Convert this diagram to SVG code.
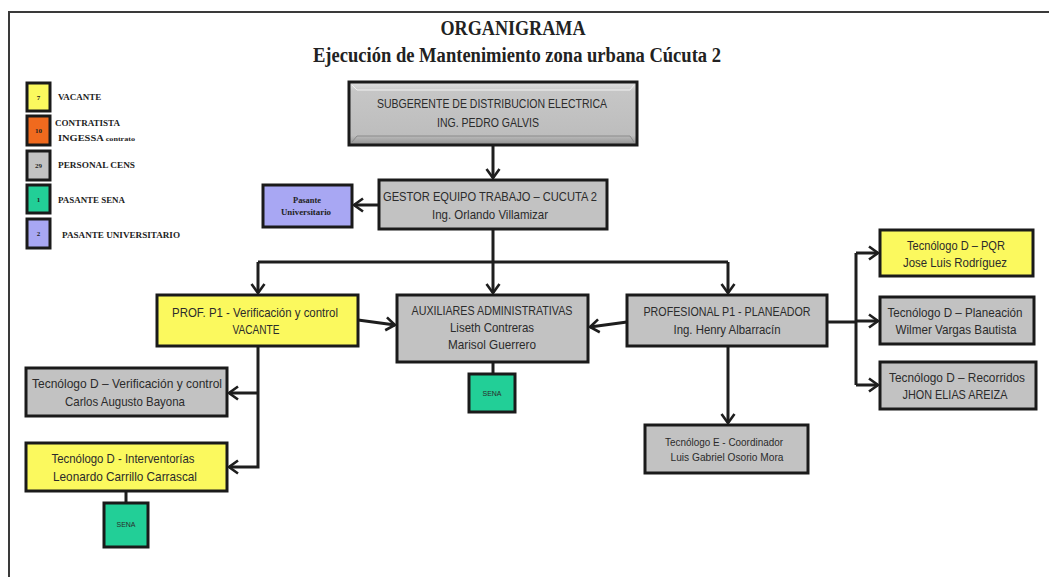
<svg xmlns="http://www.w3.org/2000/svg" width="1049" height="577" viewBox="0 0 1049 577">
<style>
.box{stroke:#1a1a1a;stroke-width:3}
.gray{fill:#c2c2c2}
.yel{fill:#fbf95e}
.grn{fill:#22cf97}
.pur{fill:#a8a7f3}
.org{fill:#f06a1e}
.t{font-family:"Liberation Sans",Arial,sans-serif;font-size:13px;fill:#2b2b2b;text-anchor:middle}
.ts{font-family:"Liberation Sans",Arial,sans-serif;font-size:11px;fill:#2b2b2b;text-anchor:middle}
.tiny{font-family:"Liberation Sans",Arial,sans-serif;font-size:7px;fill:#2b2b2b;text-anchor:middle}
.lg{font-family:"Liberation Serif","Times New Roman",serif;font-size:9px;font-weight:bold;fill:#222}
.num{font-family:"Liberation Serif","Times New Roman",serif;font-size:7px;font-weight:bold;fill:#222;text-anchor:middle}
.pu{font-family:"Liberation Serif","Times New Roman",serif;font-size:8px;font-weight:bold;fill:#222;text-anchor:middle}
.ttl{font-family:"Liberation Serif","Times New Roman",serif;font-weight:bold;font-size:20px;fill:#222;text-anchor:middle}
.c{fill:none;stroke:#1e1e1e;stroke-width:3}
</style>
<defs>
<marker id="ah" markerUnits="userSpaceOnUse" markerWidth="14" markerHeight="16" refX="11" refY="8" orient="auto">
<path d="M2,1.5 L11,8 L2,14.5" fill="none" stroke="#1e1e1e" stroke-width="2.6"/>
</marker>
<linearGradient id="bev" x1="0" y1="0" x2="0" y2="1">
<stop offset="0" stop-color="#e2e2e2"/>
<stop offset="0.15" stop-color="#c6c6c6"/>
<stop offset="0.85" stop-color="#bdbdbd"/>
<stop offset="1" stop-color="#8f8f8f"/>
</linearGradient>
</defs>
<rect width="1049" height="577" fill="#fff"/>
<path d="M9,577 V12 H1049" fill="none" stroke="#3a3a3a" stroke-width="2"/>

<g id="title">
<text class="ttl" x="513" y="35" textLength="145" lengthAdjust="spacingAndGlyphs">ORGANIGRAMA</text>
<text class="ttl" x="517" y="62" textLength="408" lengthAdjust="spacingAndGlyphs">Ejecución de Mantenimiento zona urbana Cúcuta 2</text>
</g>

<g id="legend">
<rect class="box yel" x="27" y="83" width="23" height="28"/>
<text class="num" x="38.5" y="100">7</text>
<text class="lg" x="58" y="100">VACANTE</text>
<rect class="box org" x="27" y="116" width="23" height="29"/>
<text class="num" x="38.5" y="133">10</text>
<text class="lg" x="55" y="126" textLength="65" lengthAdjust="spacingAndGlyphs">CONTRATISTA</text>
<text class="lg" x="58" y="141" textLength="77" lengthAdjust="spacingAndGlyphs">INGESSA <tspan style="font-size:7px">contrato</tspan></text>
<rect class="box gray" x="27" y="151" width="23" height="29"/>
<text class="num" x="38.5" y="168">29</text>
<text class="lg" x="58" y="168" textLength="77" lengthAdjust="spacingAndGlyphs">PERSONAL CENS</text>
<rect class="box grn" x="27" y="185" width="23" height="28"/>
<text class="num" x="38.5" y="202">1</text>
<text class="lg" x="58" y="203" textLength="67" lengthAdjust="spacingAndGlyphs">PASANTE SENA</text>
<rect class="box pur" x="27" y="219" width="23" height="29"/>
<text class="num" x="38.5" y="236">2</text>
<text class="lg" x="62" y="238" textLength="118" lengthAdjust="spacingAndGlyphs">PASANTE UNIVERSITARIO</text>
</g>

<g id="connectors">
<path class="c" d="M493,145 V178" marker-end="url(#ah)"/>
<path class="c" d="M379,205 H354" marker-end="url(#ah)"/>
<path class="c" d="M493,229 V262 M258,262 H728"/>
<path class="c" d="M258,262 V293" marker-end="url(#ah)"/>
<path class="c" d="M493,262 V293" marker-end="url(#ah)"/>
<path class="c" d="M728,262 V293" marker-end="url(#ah)"/>
<path class="c" d="M358,320 L395,325" marker-end="url(#ah)"/>
<path class="c" d="M627,322 L590,327" marker-end="url(#ah)"/>
<path class="c" d="M493,362 V374"/>
<path class="c" d="M728,346 V423" marker-end="url(#ah)"/>
<path class="c" d="M827,322 H856 M856,253 V385"/>
<path class="c" d="M856,253 H878" marker-end="url(#ah)"/>
<path class="c" d="M856,321 H878" marker-end="url(#ah)"/>
<path class="c" d="M856,385 H878" marker-end="url(#ah)"/>
<path class="c" d="M258,346 V467 H229" marker-end="url(#ah)"/>
<path class="c" d="M258,393 H229" marker-end="url(#ah)"/>
<path class="c" d="M126,491 V503"/>
</g>

<g id="subgerente">
<rect x="349" y="82" width="288" height="63" fill="url(#bev)" stroke="#1a1a1a" stroke-width="3"/>
<path d="M352,142 L357,136 H630 L634,142" fill="none" stroke="#8a8a8a" stroke-width="1"/>
<path d="M352,85 L357,90 H630 L634,85" fill="none" stroke="#f0f0f0" stroke-width="1"/>
<text class="t" x="492" y="108" textLength="230" lengthAdjust="spacingAndGlyphs">SUBGERENTE  DE DISTRIBUCION  ELECTRICA</text>
<text class="t" x="488" y="127" textLength="102" lengthAdjust="spacingAndGlyphs">ING. PEDRO GALVIS</text>
</g>

<g id="gestor">
<rect class="box gray" x="379" y="180" width="228" height="49"/>
<text class="t" x="490" y="201" textLength="214" lengthAdjust="spacingAndGlyphs">GESTOR  EQUIPO  TRABAJO  – CUCUTA  2</text>
<text class="t" x="490" y="219" textLength="116" lengthAdjust="spacingAndGlyphs">Ing. Orlando Villamizar</text>
</g>

<g id="pasante-universitario">
<rect class="box pur" x="263" y="185" width="89" height="42"/>
<text class="pu" x="307" y="203" textLength="28" lengthAdjust="spacingAndGlyphs">Pasante</text>
<text class="pu" x="306" y="215" textLength="50" lengthAdjust="spacingAndGlyphs">Universitario</text>
</g>

<g id="prof-verificacion">
<rect class="box yel" x="157" y="295" width="201" height="51"/>
<text class="t" x="255" y="317" textLength="166" lengthAdjust="spacingAndGlyphs">PROF.  P1 - Verificación y control</text>
<text class="t" x="256" y="334" textLength="47" lengthAdjust="spacingAndGlyphs">VACANTE</text>
</g>

<g id="auxiliares">
<rect class="box gray" x="397" y="295" width="191" height="67"/>
<text class="t" x="492" y="315" textLength="161" lengthAdjust="spacingAndGlyphs">AUXILIARES  ADMINISTRATIVAS</text>
<text class="t" x="492" y="332" textLength="84" lengthAdjust="spacingAndGlyphs">Liseth Contreras</text>
<text class="t" x="492" y="349" textLength="88" lengthAdjust="spacingAndGlyphs">Marisol Guerrero</text>
</g>

<g id="sena-auxiliares">
<rect class="box grn" x="469" y="374" width="46" height="38"/>
<text class="tiny" x="492" y="396">SENA</text>
</g>

<g id="profesional-planeador">
<rect class="box gray" x="627" y="295" width="200" height="51"/>
<text class="t" x="727" y="316" textLength="167" lengthAdjust="spacingAndGlyphs">PROFESIONAL  P1 - PLANEADOR</text>
<text class="t" x="727" y="334" textLength="107" lengthAdjust="spacingAndGlyphs">Ing. Henry Albarracín</text>
</g>

<g id="tecnologo-e">
<rect class="box gray" x="645" y="425" width="163" height="48"/>
<text class="ts" x="724" y="446" textLength="118" lengthAdjust="spacingAndGlyphs">Tecnólogo  E  -  Coordinador</text>
<text class="ts" x="727" y="461" textLength="113" lengthAdjust="spacingAndGlyphs">Luis  Gabriel Osorio Mora</text>
</g>

<g id="tecnologo-pqr">
<rect class="box yel" x="880" y="230" width="153" height="46"/>
<text class="t" x="956" y="250" textLength="98" lengthAdjust="spacingAndGlyphs">Tecnólogo D – PQR</text>
<text class="t" x="955" y="267" textLength="104" lengthAdjust="spacingAndGlyphs">Jose Luis Rodríguez</text>
</g>

<g id="tecnologo-planeacion">
<rect class="box gray" x="880" y="297" width="154" height="47"/>
<text class="t" x="955" y="317" textLength="135" lengthAdjust="spacingAndGlyphs">Tecnólogo D – Planeación</text>
<text class="t" x="956" y="334" textLength="121" lengthAdjust="spacingAndGlyphs">Wilmer Vargas Bautista</text>
</g>

<g id="tecnologo-recorridos">
<rect class="box gray" x="880" y="362" width="156" height="47"/>
<text class="t" x="957" y="382" textLength="136" lengthAdjust="spacingAndGlyphs">Tecnólogo D – Recorridos</text>
<text class="t" x="955" y="399" textLength="105" lengthAdjust="spacingAndGlyphs">JHON ELIAS AREIZA</text>
</g>

<g id="tecnologo-verificacion">
<rect class="box gray" x="26" y="368" width="201" height="48"/>
<text class="t" x="127" y="388" textLength="190" lengthAdjust="spacingAndGlyphs">Tecnólogo D – Verificación y control</text>
<text class="t" x="125" y="406" textLength="120" lengthAdjust="spacingAndGlyphs">Carlos Augusto Bayona</text>
</g>

<g id="tecnologo-interventorias">
<rect class="box yel" x="26" y="443" width="201" height="48"/>
<text class="t" x="123" y="463" textLength="143" lengthAdjust="spacingAndGlyphs">Tecnólogo D - Interventorías</text>
<text class="t" x="125" y="481" textLength="144" lengthAdjust="spacingAndGlyphs">Leonardo Carrillo Carrascal</text>
</g>

<g id="sena-interventorias">
<rect class="box grn" x="104" y="503" width="44" height="44"/>
<text class="tiny" x="126" y="527">SENA</text>
</g>
</svg>
